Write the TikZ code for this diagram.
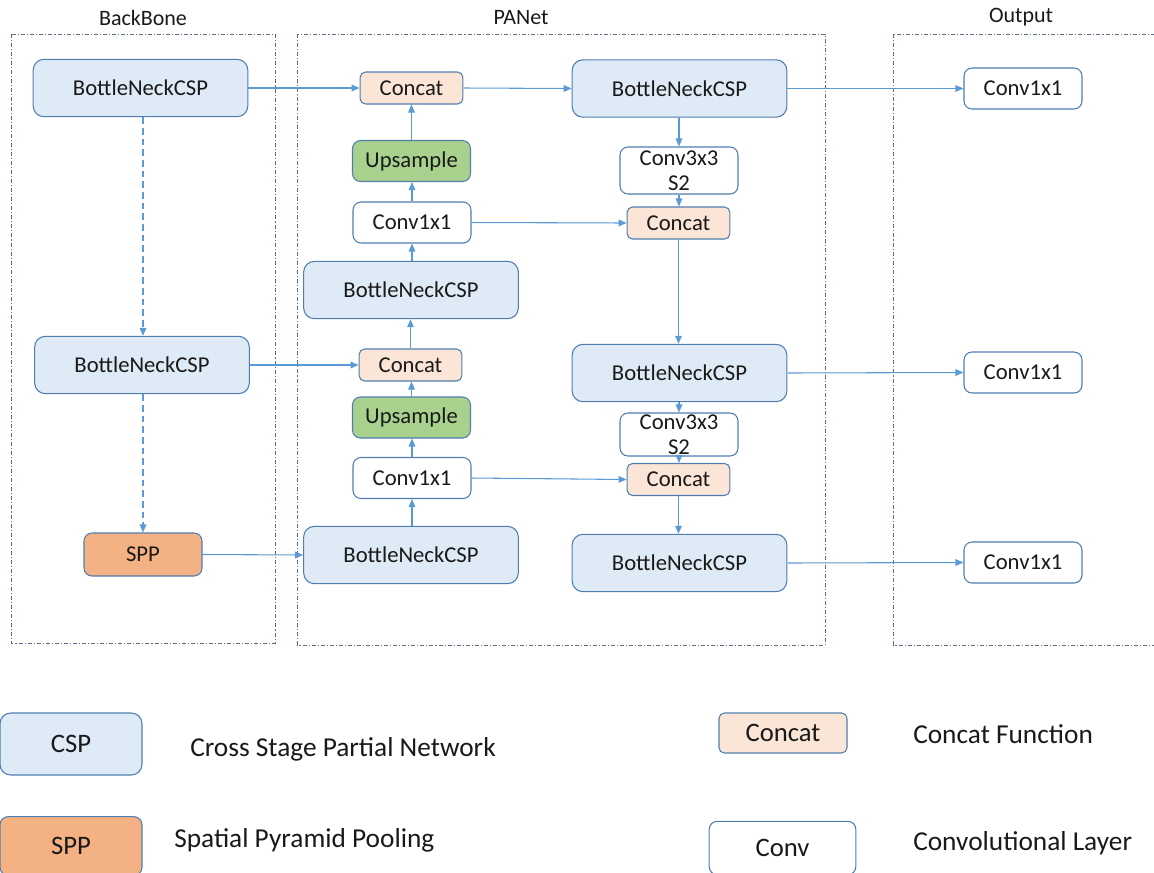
\documentclass[tikz,border=0pt]{standalone}
\usepackage{fontspec}
\setmainfont{Carlito}
\usetikzlibrary{arrows.meta}
\definecolor{edgeblue}{HTML}{4F7DB0}
\definecolor{flow}{HTML}{5B9BD5}
\definecolor{cspfill}{HTML}{DEEAF6}
\definecolor{catfill}{HTML}{FBE5D6}
\definecolor{upfill}{HTML}{A9D18E}
\definecolor{sppfill}{HTML}{F4B183}
\definecolor{grpline}{HTML}{5A6E8C}
\tikzset{
  blk/.style={draw=edgeblue, line width=0.8pt, rounded corners=6pt, inner sep=0pt,
    font=\fontsize{17}{20}\selectfont, text=black!90, align=center},
  csp/.style={blk, fill=cspfill, minimum width=161pt, minimum height=43pt, rounded corners=8pt},
  cat/.style={blk, fill=catfill, minimum width=77pt, minimum height=24pt, rounded corners=4pt},
  ups/.style={blk, fill=upfill, minimum width=88.5pt, minimum height=30.75pt},
  conv/.style={blk, fill=white, minimum width=88.5pt, minimum height=30.75pt},
  spp/.style={blk, fill=sppfill, minimum width=88.5pt, minimum height=32.25pt},
  grp/.style={draw=grpline, line width=0.6pt, dash pattern=on 3pt off 1.5pt on 0.8pt off 1.5pt},
  grplabel/.style={font=\fontsize{16.5}{19}\selectfont, text=black!90},
  flowarrow/.style={draw=flow, line width=0.8pt, -{Triangle[length=6pt,width=5pt]}},
  dasharrow/.style={flowarrow, dash pattern=on 5pt off 3pt},
  legtext/.style={font=\fontsize{20.5}{24}\selectfont, text=black!90, anchor=west, inner sep=0pt},
  legbox/.style={font=\fontsize{20}{24}\selectfont}
}
\begin{document}
\begin{tikzpicture}[x=0.75pt,y=-0.75pt]
\useasboundingbox (0,0) rectangle (1154,872);
\clip (0,0) rectangle (1154,872);

% group frames
\draw[grp] (11,34) rectangle (275,643);
\draw[grp] (297,34) rectangle (825,645);
\draw[grp] (893,34) rectangle (1170,645);
\node[grplabel] (lblbb) at (143,18) {BackBone};
\node[grplabel] (lblpa) at (521,18) {PANet};
\node[grplabel] (lblout) at (1021,17) {Output};

% backbone
\node[csp] (bb1) at (140.5,88) {BottleNeckCSP};
\node[csp] (bb2) at (142,365) {BottleNeckCSP};
\node[spp] (spp) at (143,554.5) {SPP};

% PANet, upward path
\node[cat] (cat1) at (411.5,88) {Concat};
\node[ups] (up1) at (411.5,161) {Upsample};
\node[conv] (cv1) at (412,222.5) {Conv1x1};
\node[csp] (pn1) at (411,290) {BottleNeckCSP};
\node[cat] (cat2) at (410.5,365) {Concat};
\node[ups] (up2) at (411.5,417.5) {Upsample};
\node[conv] (cv2) at (412,478) {Conv1x1};
\node[csp] (pn2) at (411,555) {BottleNeckCSP};

% PANet, downward path
\node[csp] (rn1) at (679.5,88.5) {BottleNeckCSP};
\node[conv, minimum height=35.25pt, font=\fontsize{17}{19}\selectfont] (c3a) at (679,170.5) {Conv3x3\\S2};
\node[cat] (rc1) at (678.5,223) {Concat};
\node[csp] (rn2) at (679.5,373) {BottleNeckCSP};
\node[conv, minimum height=32.25pt, font=\fontsize{17}{19}\selectfont, text depth=0pt] (c3b) at (679,434.5) {Conv3x3\\S2};
\node[cat] (rc2) at (678.5,479.5) {Concat};
\node[csp] (rn3) at (679.5,563) {BottleNeckCSP};

% output heads
\node[conv] (o1) at (1023,88.5) {Conv1x1};
\node[conv] (o2) at (1023,372.5) {Conv1x1};
\node[conv] (o3) at (1023,562.5) {Conv1x1};

% backbone connections
\draw[dasharrow] (bb1.south -| 143,0) -- (bb2.north -| 143,0);
\draw[dasharrow] (bb2.south -| 143,0) -- (spp.north);
\draw[flowarrow] (bb1.east) -- (cat1.west);
\draw[flowarrow] (bb2.east) -- (cat2.west);
\draw[flowarrow] (spp.east) -- (pn2.west);

% upward path
\draw[flowarrow] (pn2.north -| cv2.south) -- (cv2.south);
\draw[flowarrow] (cv2.north) -- (up2.south -| cv2.north);
\draw[flowarrow] (up2.north) -- (cat2.south -| up2.north);
\draw[flowarrow] (cat2.north) -- (pn1.south -| cat2.north);
\draw[flowarrow] (pn1.north -| cv1.south) -- (cv1.south);
\draw[flowarrow] (cv1.north) -- (up1.south -| cv1.north);
\draw[flowarrow] (up1.north) -- (cat1.south -| up1.north);

% lateral links
\draw[flowarrow] (cat1.east) -- (rn1.west);
\draw[flowarrow] (cv1.east) -- (rc1.west);
\draw[flowarrow] (cv2.east) -- (rc2.west);

% downward path
\draw[flowarrow] (rn1.south -| c3a.north) -- (c3a.north);
\draw[flowarrow] (c3a.south) -- (rc1.north -| c3a.south);
\draw[flowarrow] (rc1.south) -- (rn2.north -| rc1.south);
\draw[flowarrow] (rn2.south -| c3b.north) -- (c3b.north);
\draw[flowarrow] (c3b.south) -- (rc2.north -| c3b.south);
\draw[flowarrow] (rc2.south) -- (rn3.north -| rc2.south);

% outputs
\draw[flowarrow] (rn1.east) -- (o1.west);
\draw[flowarrow] (rn2.east) -- (o2.west);
\draw[flowarrow] (rn3.east) -- (o3.west);

% legend
\node[csp, legbox, minimum width=106.5pt, minimum height=46.5pt] (lcsp) at (71,744) {CSP};
\node[legtext] (tcsp) at (190,749) {Cross Stage Partial Network};
\node[spp, legbox, minimum width=106.5pt, minimum height=44pt] (lspp) at (71,846) {SPP};
\node[legtext] (tspp) at (174,840) {Spatial Pyramid Pooling};
\node[cat, legbox, minimum width=96pt, minimum height=30pt] (lcat) at (783,733) {Concat};
\node[legtext] (tcat) at (913,734) {Concat Function};
\node[conv, legbox, minimum width=110pt, minimum height=40pt] (lconv) at (782.5,848) {Conv};
\node[legtext] (tconv) at (913,843) {Convolutional Layer};
\end{tikzpicture}
\end{document}
